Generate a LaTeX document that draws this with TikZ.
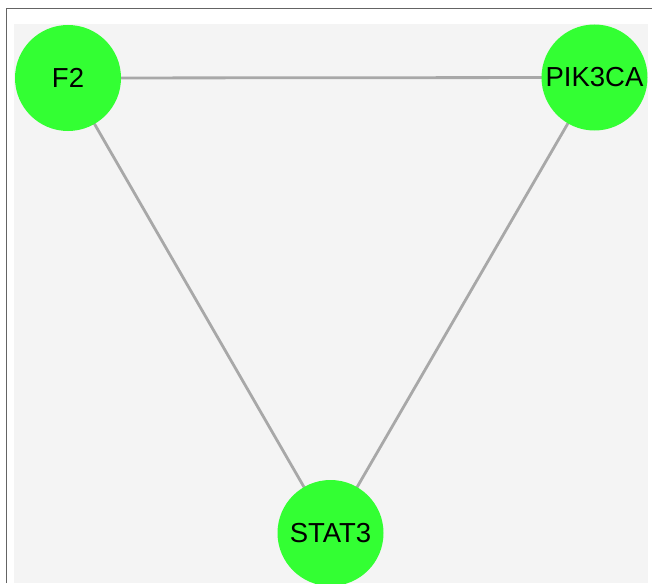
\documentclass[tikz,border=0pt]{standalone}
\usepackage{fontspec}
\setmainfont{Liberation Sans}
\definecolor{nodegreen}{RGB}{51,255,51}
\definecolor{panelbg}{RGB}{244,244,244}
\definecolor{edgegray}{RGB}{168,168,168}
\definecolor{framegray}{RGB}{100,100,100}
\begin{document}
\begin{tikzpicture}[x=1pt,y=-1pt,
  gene/.style={circle,fill=nodegreen,draw=none,minimum size=106pt,inner sep=0pt,
    font=\fontsize{27.5}{30}\selectfont,text=black},
  link/.style={draw=edgegray,line width=2.8pt}]
  \useasboundingbox (0,0) rectangle (652,583);
  \clip (0,0) rectangle (652,583);
  % outer frame (top and left edges visible)
  \draw[framegray,line width=1.5pt] (6.5,583) -- (6.5,8.5) -- (652,8.5);
  % panel background
  \fill[panelbg] (14,24) rectangle (648,583);
  % edges first, so the nodes cover their ends
  \coordinate (cf2) at (68,78);
  \coordinate (cpik) at (594.5,77.5);
  \coordinate (cstat) at (330.5,533);
  \path[link] (cf2) -- (cpik);
  \path[link] (cf2) -- (cstat);
  \path[link] (cpik) -- (cstat);
  % nodes
  \node[gene] (f2) at (cf2) {F2};
  \node[gene] (pik) at (cpik) {PIK3CA};
  \node[gene] (stat) at (cstat) {STAT3};
\end{tikzpicture}
\end{document}
